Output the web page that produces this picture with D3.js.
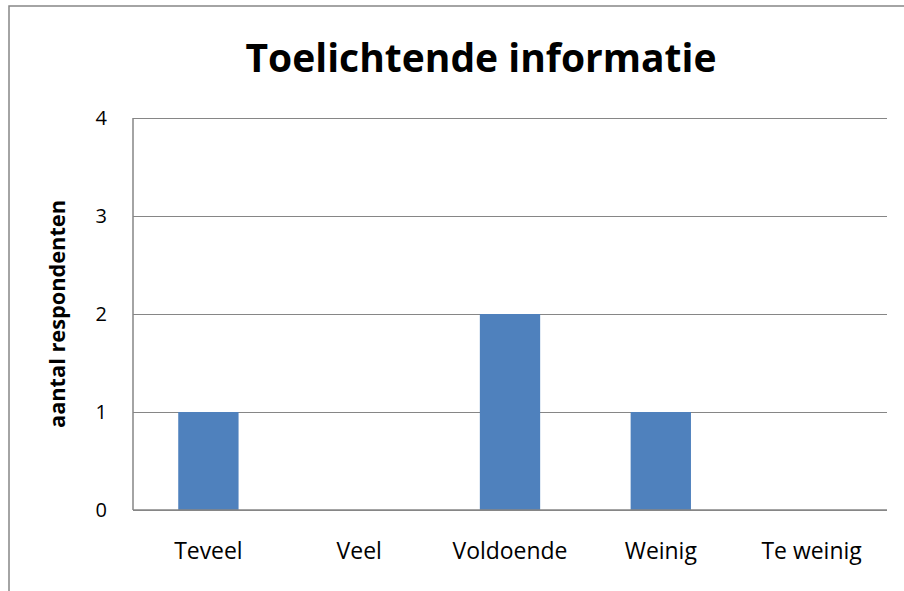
<!DOCTYPE html>
<html>
<head>
<meta charset="utf-8">
<script src="https://cdn.jsdelivr.net/npm/d3@7"></script>
<style>
  body { margin: 0; background: #fff; }
  text { font-family: "Open Sans", "Noto Sans", sans-serif; fill: #000; }
</style>
</head>
<body>
<div id="chart"></div>
<script>
// data
var categorieen = ["Teveel", "Veel", "Voldoende", "Weinig", "Te weinig"];
var aantallen = [1, 0, 2, 1, 0];
var yTicks = [0, 1, 2, 3, 4];
var titel = "Toelichtende informatie";
var yLabel = "aantal respondenten";

var W = 904, H = 591;
var margin = {top: 118, right: 17, bottom: 81, left: 133};
var w = W - margin.left - margin.right,
    h = H - margin.top - margin.bottom;

var svg = d3.select("#chart").append("svg")
  .attr("width", W).attr("height", H);

// kader rond de grafiek (loopt door buiten beeld)
svg.append("rect")
  .attr("x", 9).attr("y", 6)
  .attr("width", 1000).attr("height", 1000)
  .attr("fill", "none").attr("stroke", "#878787").attr("stroke-width", 1.5);

var g = svg.append("g").attr("transform", "translate(" + margin.left + "," + margin.top + ")");

var x = d3.scaleBand().domain(categorieen).range([0, w]).padding(0);
var y = d3.scaleLinear().domain([0, 4]).range([h, 0]);

// rasterlijnen
g.append("g").attr("class", "grid")
  .call(d3.axisLeft(y).tickValues(yTicks).tickSize(-w).tickFormat(""))
  .call(function(s){
    s.select(".domain").remove();
    s.selectAll("line").attr("stroke", "#868686").attr("stroke-width", 1)
      .attr("shape-rendering", "crispEdges");
  });

// balken
var barW = x.bandwidth() * 0.4;
g.selectAll("rect.bar").data(aantallen).enter().append("rect")
  .attr("class", "bar")
  .attr("x", function(d, i){ return x(categorieen[i]) + x.bandwidth()/2 - barW/2; })
  .attr("y", function(d){ return y(d); })
  .attr("width", barW)
  .attr("height", function(d){ return h - y(d); })
  .attr("fill", "#4f81bd");

// assen
g.append("line").attr("x1", 0).attr("x2", 0).attr("y1", 0).attr("y2", h)
  .attr("stroke", "#868686").attr("stroke-width", 1.5);
g.append("line").attr("x1", 0).attr("x2", w).attr("y1", h).attr("y2", h)
  .attr("stroke", "#868686").attr("stroke-width", 1.5);

// helper: lettergrootte zo kiezen dat tekst een breedte heeft
function fit(sel, target) {
  var fs = parseFloat(sel.style("font-size"));
  var len = sel.node().getComputedTextLength();
  sel.style("font-size", (fs * target / len) + "px");
}

// categorie labels
var catLabels = g.selectAll("text.cat").data(categorieen).enter().append("text")
  .attr("class", "cat")
  .attr("x", function(d){ return x(d) + x.bandwidth()/2; })
  .attr("y", 559 - margin.top)
  .attr("text-anchor", "middle")
  .style("font-size", "20px")
  .text(function(d){ return d; });
var vold = catLabels.filter(function(d){ return d == "Voldoende"; });
fit(vold, 115);
var fsCat = vold.style("font-size");
catLabels.style("font-size", fsCat);

// y tick labels
g.selectAll("text.ytick").data(yTicks).enter().append("text")
  .attr("class", "ytick")
  .attr("x", 107 - margin.left)
  .attr("y", function(d){ return y(d); })
  .attr("dy", "0.36em")
  .attr("text-anchor", "end")
  .style("font-size", "20px")
  .text(function(d){ return d; });

// titel
var t = svg.append("text")
  .attr("x", 481).attr("y", 72)
  .attr("text-anchor", "middle")
  .style("font-size", "40px").style("font-weight", "bold")
  .text(titel);
fit(t, 471);

// y-as titel
var yl = svg.append("text")
  .attr("transform", "translate(65," + (margin.top + h/2) + ") rotate(-90)")
  .attr("text-anchor", "middle")
  .style("font-size", "16px").style("font-weight", "bold")
  .text(yLabel);
fit(yl, 228);
</script>
</body>
</html>
